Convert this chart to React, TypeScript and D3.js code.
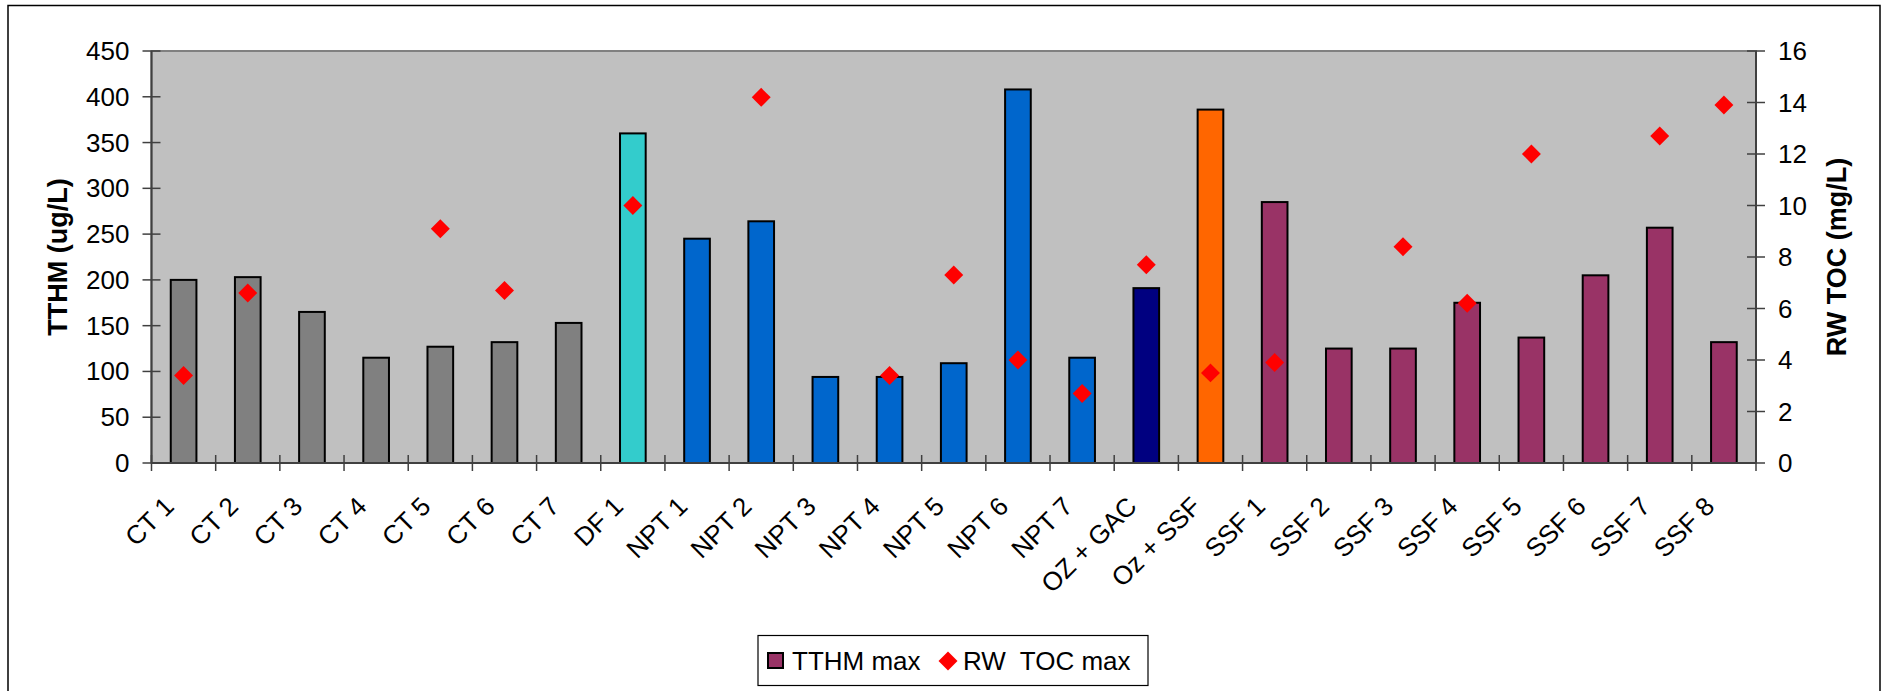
import React from "react";
import * as d3 from "d3";

// Treatment plants along the x axis
const categories = [
  "CT 1", "CT 2", "CT 3", "CT 4", "CT 5", "CT 6", "CT 7",
  "DF 1",
  "NPT 1", "NPT 2", "NPT 3", "NPT 4", "NPT 5", "NPT 6", "NPT 7",
  "OZ + GAC", "Oz + SSF",
  "SSF 1", "SSF 2", "SSF 3", "SSF 4", "SSF 5", "SSF 6", "SSF 7", "SSF 8",
];

// Maximum TTHM (ug/L), left axis
const tthmMax = [
  200, 203, 165, 115, 127, 132, 153,
  360,
  245, 264, 94, 94, 109, 408, 115,
  191, 386,
  285, 125, 125, 175, 137, 205, 257, 132,
];

// Maximum raw-water TOC (mg/L), right axis; null where not reported
const rwTocMax: (number | null)[] = [
  3.4, 6.6, null, null, 9.1, 6.7, null,
  10.0,
  null, 14.2, null, 3.4, 7.3, 4.0, 2.7,
  7.7, 3.5,
  3.9, null, 8.4, 6.2, 12.0, null, 12.7, 13.9,
];

const leftTicks = [0, 50, 100, 150, 200, 250, 300, 350, 400, 450];
const rightTicks = [0, 2, 4, 6, 8, 10, 12, 14, 16];

const treatmentKeys = ["CT", "DF", "NPT", "OZ", "Oz", "SSF"];
const treatmentColors = ["#808080", "#33CCCC", "#0066CC", "#000080", "#FF6600", "#993366"];

const W = 1885;
const H = 691;
const plot = { left: 151.5, right: 1756, top: 51, bottom: 463 };
const FONT = "'Liberation Sans', Arial, sans-serif";

export default function App() {
  const x = d3.scaleBand<string>().domain(categories).range([plot.left, plot.right]).padding(0);
  const yL = d3.scaleLinear().domain([0, 450]).range([plot.bottom, plot.top]);
  const yR = d3.scaleLinear().domain([0, 16]).range([plot.bottom, plot.top]);
  const color = d3.scaleOrdinal<string, string>().domain(treatmentKeys).range(treatmentColors);
  const barW = x.bandwidth() * 0.4;
  const diamond = d3.symbol().type(d3.symbolSquare).size(180)() as string;
  const boundaries = categories.map((c) => x(c) as number).concat([plot.right]);

  return (
    <svg
      width={W}
      height={H}
      viewBox={`0 0 ${W} ${H}`}
      style={{ position: "absolute", left: 0, top: 0, background: "#fff" }}
      fontFamily={FONT}
    >
      {/* chart frame */}
      <rect x={8} y={5.5} width={1872} height={700} fill="#fff" stroke="#000" strokeWidth={1.5} />

      {/* plot area */}
      <rect
        x={plot.left}
        y={plot.top}
        width={plot.right - plot.left}
        height={plot.bottom - plot.top}
        fill="#C0C0C0"
        stroke="#808080"
        strokeWidth={2}
      />

      {/* bars */}
      {categories.map((c, i) => {
        const cx = (x(c) as number) + x.bandwidth() / 2;
        return (
          <rect
            key={c}
            x={cx - barW / 2}
            y={yL(tthmMax[i])}
            width={barW}
            height={yL(0) - yL(tthmMax[i])}
            fill={color(c.split(" ")[0])}
            stroke="#000"
            strokeWidth={2}
          />
        );
      })}

      {/* axes */}
      <line x1={plot.left} x2={plot.left} y1={plot.top} y2={plot.bottom} stroke="#404040" strokeWidth={2} />
      <line x1={plot.right} x2={plot.right} y1={plot.top} y2={plot.bottom} stroke="#404040" strokeWidth={2} />
      <line x1={plot.left} x2={plot.right} y1={plot.bottom} y2={plot.bottom} stroke="#404040" strokeWidth={2} />

      {/* left axis */}
      {leftTicks.map((t) => (
        <g key={`l${t}`}>
          <line x1={plot.left - 9} x2={plot.left + 9} y1={yL(t)} y2={yL(t)} stroke="#404040" strokeWidth={1.5} />
          <text x={plot.left - 22} y={yL(t)} textAnchor="end" dominantBaseline="central" fontSize={26} fill="#000">
            {t}
          </text>
        </g>
      ))}

      {/* right axis */}
      {rightTicks.map((t) => (
        <g key={`r${t}`}>
          <line x1={plot.right - 9} x2={plot.right + 9} y1={yR(t)} y2={yR(t)} stroke="#404040" strokeWidth={1.5} />
          <text x={plot.right + 22} y={yR(t)} textAnchor="start" dominantBaseline="central" fontSize={26} fill="#000">
            {t}
          </text>
        </g>
      ))}

      {/* category ticks */}
      {boundaries.map((bx, i) => (
        <line key={`c${i}`} x1={bx} x2={bx} y1={plot.bottom - 8} y2={plot.bottom + 8} stroke="#404040" strokeWidth={1.5} />
      ))}

      {/* category labels */}
      {categories.map((c) => {
        const cx = (x(c) as number) + x.bandwidth() / 2;
        const ax = cx - 8;
        const ay = 508;
        return (
          <text
            key={`t${c}`}
            x={ax}
            y={ay}
            textAnchor="end"
            fontSize={26}
            fill="#000"
            transform={`rotate(-45 ${ax} ${ay})`}
          >
            {c}
          </text>
        );
      })}

      {/* TOC markers */}
      {categories.map((c, i) => {
        const v = rwTocMax[i];
        if (v == null) return null;
        const cx = (x(c) as number) + x.bandwidth() / 2;
        return (
          <path key={`d${c}`} d={diamond} transform={`translate(${cx},${yR(v)}) rotate(45)`} fill="#FF0000" />
        );
      })}

      {/* axis titles */}
      <text
        transform={`translate(67, ${(plot.top + plot.bottom) / 2}) rotate(-90)`}
        textAnchor="middle"
        fontSize={27}
        fontWeight="bold"
        fill="#000"
      >
        TTHM (ug/L)
      </text>
      <text
        transform={`translate(1846, ${(plot.top + plot.bottom) / 2}) rotate(-90)`}
        textAnchor="middle"
        fontSize={27}
        fontWeight="bold"
        fill="#000"
      >
        RW TOC (mg/L)
      </text>

      {/* legend */}
      <g>
        <rect x={758} y={635.5} width={390} height={50} fill="#fff" stroke="#000" strokeWidth={1.2} />
        <rect x={768} y={653} width={15} height={15} fill={treatmentColors[5]} stroke="#000" strokeWidth={2} />
        <text x={792} y={661} dominantBaseline="central" fontSize={26} fill="#000">
          TTHM max
        </text>
        <path d={diamond} transform="translate(948,661) rotate(45)" fill="#FF0000" />
        <text x={963} y={661} dominantBaseline="central" fontSize={26} fill="#000" style={{ whiteSpace: "pre" }}>
          RW  TOC max
        </text>
      </g>
    </svg>
  );
}
